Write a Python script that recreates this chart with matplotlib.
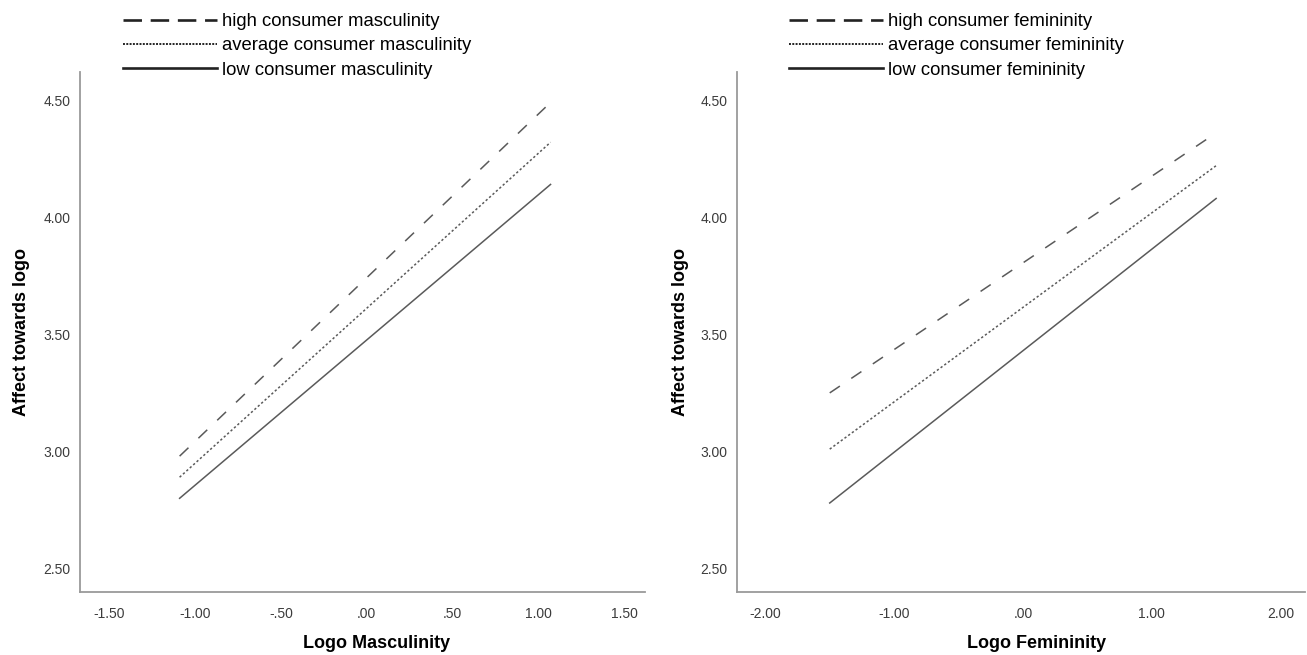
import matplotlib
matplotlib.use('Agg')
import matplotlib.pyplot as plt
from matplotlib.lines import Line2D

# ---- data ----
x_masc = [-1.09, 1.07]
masc_high = [2.98, 4.49]
masc_avg = [2.89, 4.32]
masc_low = [2.80, 4.14]

x_fem = [-1.50, 1.50]
fem_high = [3.25, 4.36]
fem_avg = [3.01, 4.22]
fem_low = [2.78, 4.08]

y_ticks = [2.50, 3.00, 3.50, 4.00, 4.50]
y_ticklabels = ['2.50', '3.00', '3.50', '4.00', '4.50']
masc_ticks = [-1.5, -1.0, -0.5, 0.0, 0.5, 1.0, 1.5]
masc_ticklabels = ['-1.50', '-1.00', '-.50', '.00', '.50', '1.00', '1.50']
fem_ticks = [-2.0, -1.0, 0.0, 1.0, 2.0]
fem_ticklabels = ['-2.00', '-1.00', '.00', '1.00', '2.00']

plt.rcParams['font.family'] = ['Liberation Sans', 'DejaVu Sans']

LINE_C = '#5a5a5a'
SPINE_C = '#9a9a9a'
TICK_C = '#3c3c3c'

fig = plt.figure(figsize=(13.07, 6.55), dpi=100)
ax1 = fig.add_axes([80/1307, 63/655, 565/1307, 520/655])
ax2 = fig.add_axes([737/1307, 63/655, 568/1307, 520/655])


def style(ax, xticks, xticklabels, xlim, xlabel, label_x, ylabel_x):
    ax.set_xlim(*xlim)
    ax.set_ylim(2.40, 4.62)
    ax.set_xticks(xticks)
    ax.set_xticklabels(xticklabels)
    ax.set_yticks(y_ticks)
    ax.set_yticklabels(y_ticklabels)
    ax.tick_params(axis='both', length=0, labelsize=10, colors=TICK_C)
    ax.tick_params(axis='x', pad=11)
    ax.tick_params(axis='y', pad=7)
    for s in ['top', 'right']:
        ax.spines[s].set_visible(False)
    for s in ['left', 'bottom']:
        ax.spines[s].set_color(SPINE_C)
        ax.spines[s].set_linewidth(1.3)
    ax.set_xlabel(xlabel, fontsize=13, fontweight='bold')
    ax.xaxis.set_label_coords(label_x, -0.082)
    ax.set_ylabel('Affect towards logo', fontsize=13, fontweight='bold')
    ax.yaxis.set_label_coords(ylabel_x, 0.5)


def legend(ax, labels, x0):
    handles = [
        Line2D([], [], color='#222222', lw=1.9, dashes=(7.0, 3.3)),
        Line2D([], [], color='#222222', lw=1.4, dashes=(1.0, 0.7)),
        Line2D([], [], color='#222222', lw=1.9),
    ]
    ax.legend(handles, labels, loc='lower left', bbox_to_anchor=(x0, 0.987),
              frameon=False, fontsize=13.3, handlelength=5.1, handletextpad=0.25,
              labelspacing=0.4, borderpad=0, borderaxespad=0)


ax1.plot(x_masc, masc_high, color=LINE_C, lw=1.1, dashes=(8, 9))
ax1.plot(x_masc, masc_avg, color=LINE_C, lw=1.1, dashes=(1.5, 1.5))
ax1.plot(x_masc, masc_low, color=LINE_C, lw=1.1)
style(ax1, masc_ticks, masc_ticklabels, (-1.67, 1.62), 'Logo Masculinity', 0.525, -0.089)
legend(ax1, ['high consumer masculinity', 'average consumer masculinity',
             'low consumer masculinity'], 0.076)

ax2.plot(x_fem, fem_high, color=LINE_C, lw=1.1, dashes=(8, 9))
ax2.plot(x_fem, fem_avg, color=LINE_C, lw=1.1, dashes=(1.5, 1.5))
ax2.plot(x_fem, fem_low, color=LINE_C, lw=1.1)
style(ax2, fem_ticks, fem_ticklabels, (-2.22, 2.19), 'Logo Femininity', 0.528, -0.084)
legend(ax2, ['high consumer femininity', 'average consumer femininity',
             'low consumer femininity'], 0.0915)

fig.savefig('out.png', dpi=100, facecolor='white')
